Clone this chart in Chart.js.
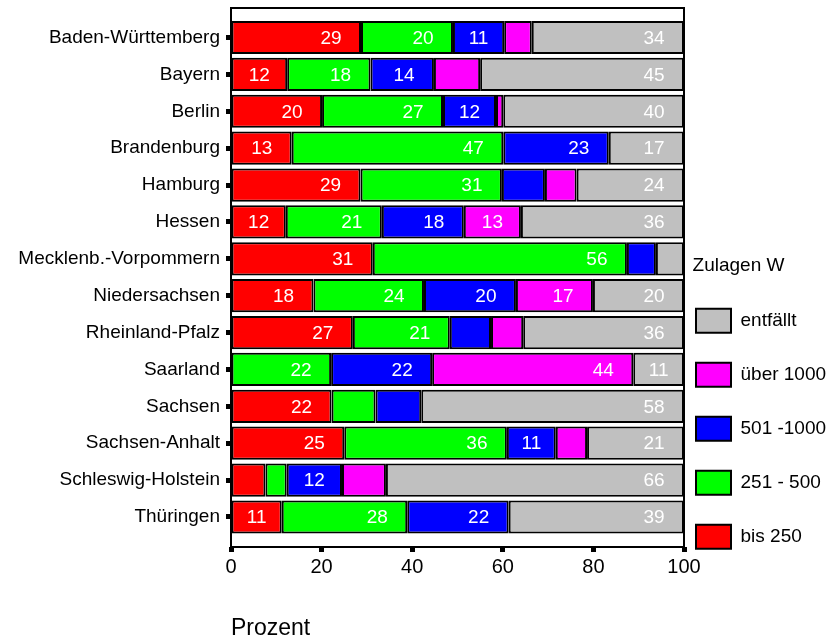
<!DOCTYPE html>
<html>
<head>
<meta charset="utf-8">
<script src="https://cdn.jsdelivr.net/npm/chart.js@4/dist/chart.umd.min.js"></script>
<style>
  html, body { margin: 0; padding: 0; background: #fff; }
  #wrap { width: 838px; height: 642px; }
</style>
</head>
<body>
<div id="wrap"><canvas id="c" width="838" height="642"></canvas></div>
<script>
const categories = ['Baden-Württemberg', 'Bayern', 'Berlin', 'Brandenburg', 'Hamburg', 'Hessen',
  'Mecklenb.-Vorpommern', 'Niedersachsen', 'Rheinland-Pfalz', 'Saarland', 'Sachsen',
  'Sachsen-Anhalt', 'Schleswig-Holstein', 'Thüringen'];
const seriesNames = ['bis 250', '251 - 500', '501 -1000', 'über 1000', 'entfällt'];
const bis250    = [28.7, 12.4, 20.1, 13.4, 28.6, 12.1, 31.3, 18.2, 26.9, 0,    22.2, 25.0, 7.6,  11.2];
const s251_500  = [20.3, 18.4, 26.7, 46.7, 31.2, 21.2, 56.1, 24.4, 21.4, 22.1, 9.7,  35.9, 4.7,  27.7];
const s501_1000 = [11.3, 14.0, 11.7, 23.3, 9.5,  18.1, 6.4,  20.3, 9.1,  22.3, 10.1, 10.8, 12.2, 22.4];
const ueber1000 = [6.1,  10.2, 1.6,  0,    7.0,  12.6, 0,    17.0, 7.1,  44.4, 0,    6.9,  9.7,  0];
const entfaellt = [33.6, 45.0, 39.9, 16.6, 23.7, 36.0, 6.2,  20.1, 35.5, 11.2, 58.0, 21.4, 65.8, 38.7];
const seriesColors = ['#FF0000', '#00FF00', '#0000FF', '#FF00FF', '#C0C0C0'];
const legendTitle = 'Zulagen W';
const axisTitle = 'Prozent';

const FONT = "'Liberation Sans', Arial, Helvetica, sans-serif";
Chart.defaults.font.family = FONT;
Chart.defaults.font.size = 19;
Chart.defaults.color = '#000';

const seriesData = [bis250, s251_500, s501_1000, ueber1000, entfaellt];
const datasets = seriesData.map((d, i) => ({
  label: seriesNames[i],
  data: d,
  backgroundColor: seriesColors[i],
  borderColor: '#000',
  borderWidth: 2,
  borderSkipped: false,
  categoryPercentage: 1.0,
  barPercentage: 0.9
}));

const valueLabels = {
  id: 'valueLabels',
  afterDatasetsDraw(chart) {
    const ctx = chart.ctx;
    ctx.save();
    ctx.font = '19px ' + FONT;
    ctx.fillStyle = '#fff';
    ctx.textAlign = 'center';
    ctx.textBaseline = 'middle';
    chart.data.datasets.forEach((ds, di) => {
      const meta = chart.getDatasetMeta(di);
      meta.data.forEach((el, i) => {
        const v = ds.data[i];
        if (v >= 10.5) {
          const mid = (el.base + el.x) / 2;
          const x = Math.max(mid, el.x - 30);
          ctx.fillText(String(Math.round(v)), x, el.y + 1);
        }
      });
    });
    ctx.restore();
  }
};

const frame = {
  id: 'frame',
  afterDatasetsDraw(chart) {
    const a = chart.chartArea;
    const ctx = chart.ctx;
    ctx.save();
    ctx.strokeStyle = '#000';
    ctx.lineWidth = 2;
    ctx.strokeRect(a.left, a.top, a.right - a.left, a.bottom - a.top);
    ctx.restore();
  }
};

const legendPlace = {
  id: 'legendPlace',
  afterLayout(chart) {
    const lg = chart.legend;
    if (!lg) return;
    lg.left = 666;
    lg.top = 256;
    lg.width = 145;
    lg.right = 838;
    lg.height = 386;
    lg.bottom = 642;
  }
};

new Chart(document.getElementById('c'), {
  type: 'bar',
  data: { labels: categories, datasets: datasets },
  options: {
    indexAxis: 'y',
    responsive: false,
    animation: false,
    layout: { padding: { top: 8, right: 154, left: 0, bottom: 0 } },
    scales: {
      x: {
        stacked: true,
        min: 0,
        max: 100,
        ticks: { stepSize: 20, font: { size: 20 }, padding: 3, color: '#000' },
        grid: { drawOnChartArea: false, drawTicks: true, tickLength: 5, tickWidth: 5, tickColor: '#000' },
        border: { display: false },
        title: { display: true, text: axisTitle, align: 'start', font: { size: 23 }, padding: { top: 0, bottom: 0 }, color: '#000' },
        afterFit(s) { s.height = 95; }
      },
      y: {
        stacked: true,
        ticks: { font: { size: 19 }, padding: 6, color: '#000' },
        grid: { offset: false, drawOnChartArea: false, drawTicks: true, tickLength: 5, tickWidth: 5, tickColor: '#000' },
        border: { display: false },
        afterBuildTicks(s) { s._startValue = -0.8; s._valueRange = 14.614; },
        afterFit(s) { s.width = 231; s.paddingTop = 0; s.paddingBottom = 0; }
      }
    },
    plugins: {
      legend: {
        position: 'chartArea',
        align: 'start',
        reverse: true,
        title: { display: true, text: legendTitle, position: 'center', padding: 0, font: { size: 19 }, color: '#000' },
        labels: { boxWidth: 35, boxHeight: 24, padding: 30, font: { size: 19 }, color: '#000' }
      },
      tooltip: { enabled: false }
    }
  },
  plugins: [valueLabels, frame, legendPlace]
});
</script>
</body>
</html>
